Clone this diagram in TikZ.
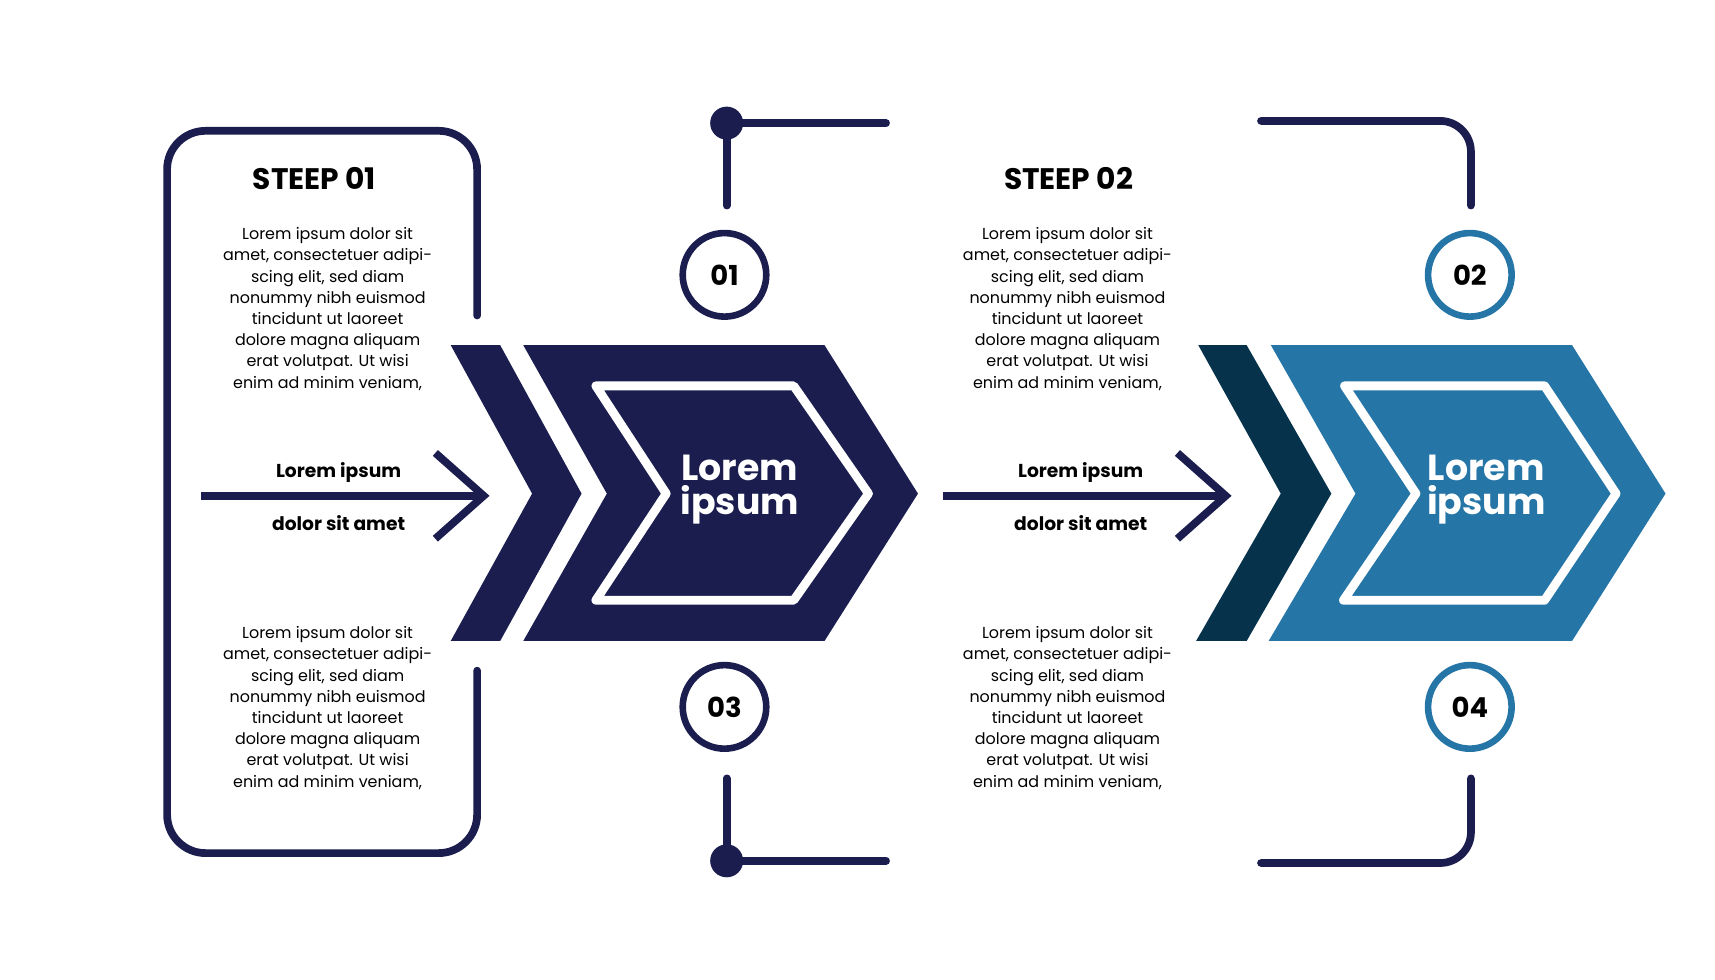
\documentclass[tikz,border=0pt]{standalone}
\usepackage{fontspec}
\setmainfont{Poppins}
\definecolor{navy}{HTML}{1A1D4E}
\definecolor{steel}{HTML}{2575A6}
\definecolor{deep}{HTML}{06324C}
\begin{document}
\begin{tikzpicture}[x=1pt,y=-1pt,
  ln/.style={line width=7pt,draw=navy,line cap=round},
  body/.style={font=\fontsize{14.5}{19.3}\selectfont,align=center,text=black},
  lbl/.style={font=\fontsize{17}{20}\selectfont\bfseries,text=black},
  ttl/.style={font=\fontsize{27}{30}\selectfont\bfseries,text=black},
  big/.style={font=\fontsize{33}{31}\selectfont\bfseries,text=white,align=center},
  num/.style={circle,draw=#1,line width=6pt,fill=white,minimum size=76pt,inner sep=0pt,font=\fontsize{25}{25}\selectfont\bfseries},
  inner/.style={draw=white,line width=8pt,line join=round}]
\useasboundingbox (0,0) rectangle (1560,891);
% left frame
\draw[ln,rounded corners=35pt] (434,287) -- (434,119) -- (152,119) -- (152,776) -- (434,776) -- (434,610);
\node[ttl] (t1) at (286,162) {STEEP 01};
\node[ttl] (t2) at (972,162) {STEEP 02};
\foreach \x/\n in {298/a,971/b}{
 \node[body] (top\n) at (\x,281) {Lorem ipsum dolor sit\\amet, consectetuer adipi-\\scing elit, sed diam\\nonummy nibh euismod\\tincidunt ut laoreet\\dolore magna aliquam\\erat volutpat. Ut wisi\\enim ad minim veniam,};
 \node[body] (bot\n) at (\x,644) {Lorem ipsum dolor sit\\amet, consectetuer adipi-\\scing elit, sed diam\\nonummy nibh euismod\\tincidunt ut laoreet\\dolore magna aliquam\\erat volutpat. Ut wisi\\enim ad minim veniam,};
}
% arrows
\coordinate (a1s) at (183,451); \coordinate (a1e) at (440,451);
\coordinate (a2s) at (858,451); \coordinate (a2e) at (1115,451);
\draw[ln,line cap=butt] (a1s) -- (a1e);
\draw[ln,line cap=butt,line join=miter] (396,412) -- (a1e) -- (396,490);
\draw[ln,line cap=butt] (a2s) -- (a2e);
\draw[ln,line cap=butt,line join=miter] (1071,412) -- (a2e) -- (1071,490);
\node[lbl] (l1) at (308,430) {Lorem ipsum};
\node[lbl] (l2) at (308,476) {dolor sit amet};
\node[lbl] (l3) at (983,430) {Lorem ipsum};
\node[lbl] (l4) at (983,476) {dolor sit amet};
% chevron 1
\fill[navy] (410,314) -- (455,314) -- (529,449) -- (455,583) -- (410,583) -- (484,449) -- cycle;
\fill[navy] (476,314) -- (750,314) -- (835,449) -- (750,583) -- (476,583) -- (552,449) -- cycle;
\draw[inner] (542,351) -- (722,351) -- (790,449) -- (722,546) -- (542,546) -- (606,449) -- cycle;
\node[big] (c1) at (673,445) {Lorem\\ipsum};
% chevron 2
\fill[deep] (1090,314) -- (1134,314) -- (1211,449) -- (1134,583) -- (1088,583) -- (1165,449) -- cycle;
\fill[steel] (1156,314) -- (1430,314) -- (1515,449) -- (1430,583) -- (1154,583) -- (1233,449) -- cycle;
\draw[inner] (1223,351) -- (1405,351) -- (1470,449) -- (1405,546) -- (1222,546) -- (1288,449) -- cycle;
\node[big] (c2) at (1352,445) {Lorem\\ipsum};
% circles
\node[num=navy] (n1) at (659,250) {01};
\node[num=navy] (n3) at (659,643) {03};
\node[num=steel] (n2) at (1337,250) {02};
\node[num=steel] (n4) at (1337,643) {04};
% connectors left
\coordinate (d1) at (661,112); \coordinate (d3) at (661,783);
\draw[ln] (d1) -- (661,187);
\draw[ln] (d1) -- (806,112);
\fill[navy] (d1) circle[radius=15];
\draw[ln] (d3) -- (661,708);
\draw[ln] (d3) -- (806,783);
\fill[navy] (d3) circle[radius=15];
% right brackets
\draw[ln,rounded corners=28pt] (1147,110) -- (1338,110) -- (1338,187);
\draw[ln,rounded corners=28pt] (1338,708) -- (1338,785) -- (1147,785);
\end{tikzpicture}
\end{document}
